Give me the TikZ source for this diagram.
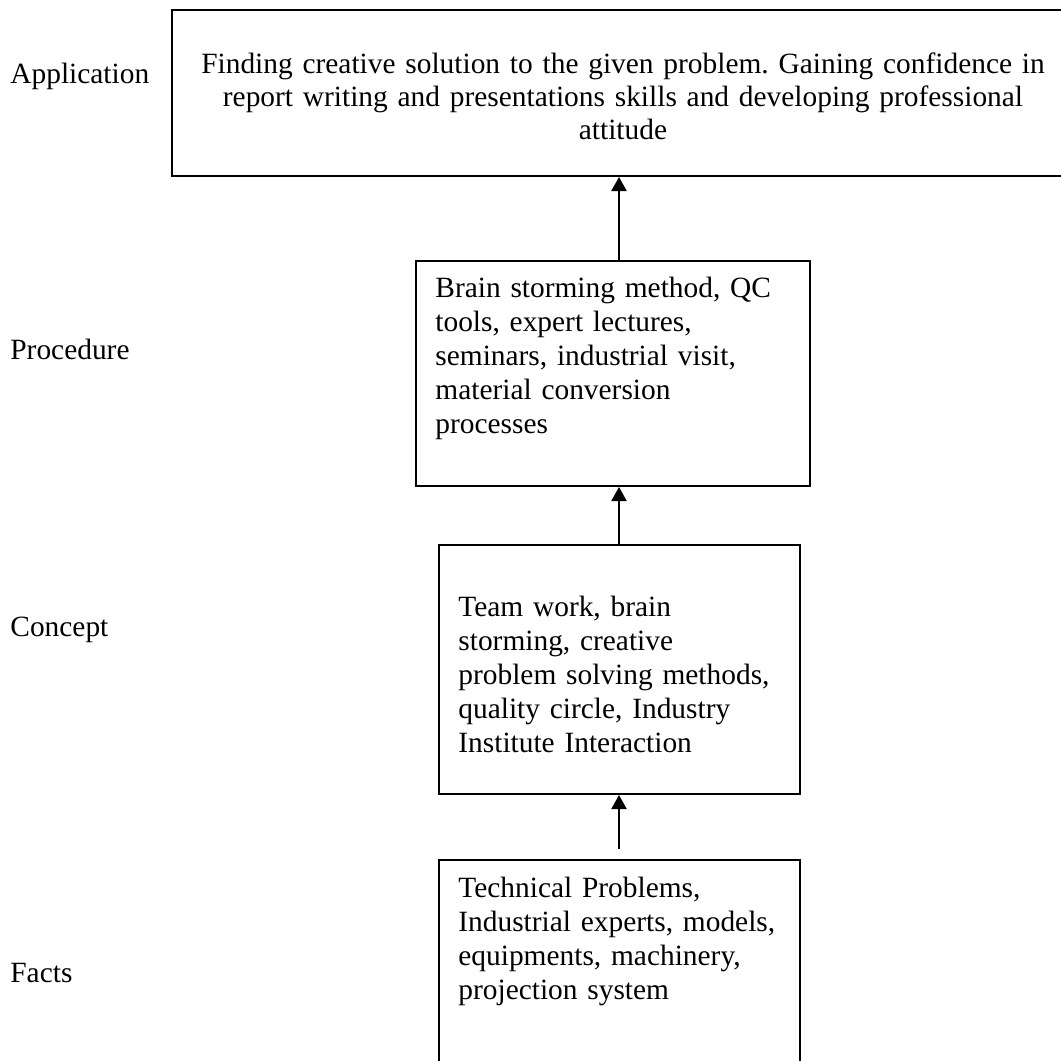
\documentclass[tikz,border=0pt]{standalone}
\usepackage{fontspec}
\setmainfont{Liberation Serif}
\usetikzlibrary{arrows.meta}
\frenchspacing
\begin{document}
\begin{tikzpicture}[x=0.5pt,y=-0.5pt,
  boxnode/.style={draw, line width=1pt, inner sep=0, anchor=north west},
  txt/.style={inner sep=0, font=\fontsize{14.7}{17}\selectfont, align=left, text width=200pt, anchor=base west},
  lbl/.style={inner sep=0, font=\fontsize{14.7}{17}\selectfont, anchor=base west},
  arr/.style={line width=1pt, -{Triangle[length=7pt,width=7.5pt]}}]
\useasboundingbox (0,0) rectangle (1061,1061);
% boxes
\node[boxnode, minimum width=460pt, minimum height=83pt] (app) at (171,9) {};
\node[boxnode, minimum width=197pt, minimum height=112.5pt] (proc) at (415,260) {};
\node[boxnode, minimum width=180.5pt, minimum height=124.5pt] (conc) at (438,544) {};
\node[boxnode, minimum width=180.5pt, minimum height=120pt] (fact) at (438,859) {};
% texts
\node[inner sep=0, font=\fontsize{14.7}{16.5}\selectfont, align=center, text width=440pt, anchor=base] (apptext) at (623,73)
  {Finding creative solution to the given problem. Gaining confidence in\\ report writing and presentations skills and developing professional\\ attitude};
\node[txt] (proctext) at (435,297) {Brain storming method, QC\\ tools, expert lectures,\\ seminars, industrial visit,\\ material conversion\\ processes};
\node[txt] (conctext) at (458,616) {Team work, brain\\ storming, creative\\ problem solving methods,\\ quality circle, Industry\\ Institute Interaction};
\node[txt] (facttext) at (458,897) {Technical Problems,\\ Industrial experts, models,\\ equipments, machinery,\\ projection system};
% side labels
\node[lbl] (lapp) at (10,83) {Application};
\node[lbl] (lproc) at (10,359) {Procedure};
\node[lbl] (lconc) at (10,636) {Concept};
\node[lbl] (lfact) at (10,982) {Facts};
% connectors
\coordinate (ax) at (619,0);
\coordinate (factstart) at (619,849);
\draw[arr] (proc.north -| ax) -- (app.south -| ax);
\draw[arr] (conc.north -| ax) -- (proc.south -| ax);
\draw[arr] (factstart) -- (conc.south -| ax);
\end{tikzpicture}
\end{document}
